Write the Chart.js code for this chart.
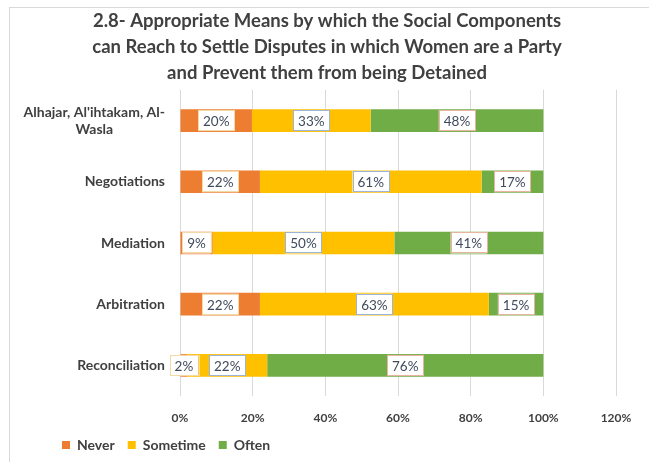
<!DOCTYPE html>
<html>
<head>
<meta charset="utf-8">
<script src="https://cdn.jsdelivr.net/npm/chart.js@4.4.1/dist/chart.umd.min.js"></script>
<style>
	html, body { margin: 0; padding: 0; background: #fff; }
	#wrap { width: 649px; height: 462px; position: relative; }
</style>
</head>
<body>
<div id="wrap"><canvas id="chart" width="649" height="462"></canvas></div>
<script>
const categories = [
	["Alhajar, Al'ihtakam, Al-", "Wasla"],
	["Negotiations"],
	["Mediation"],
	["Arbitration"],
	["Reconciliation"],
];
const never = [20, 22, 9, 22, 2];
const sometime = [33, 61, 50, 63, 22];
const often = [48, 17, 41, 15, 76];
const xTicks = [0, 20, 40, 60, 80, 100, 120];

const FONT = "Lato, 'Open Sans', sans-serif";
const TEXT = "#404040";

// 100% stacked: each bar is scaled to its row total
const totals = never.map((v, i) => v + sometime[i] + often[i]);
const share = (arr) => arr.map((v, i) => (v / totals[i]) * 100);

const frame = {
	id: "frame",
	beforeDraw(chart) {
		const ctx = chart.ctx;
		ctx.save();
		ctx.strokeStyle = "#d9d9d9";
		ctx.lineWidth = 1;
		ctx.strokeRect(9.5, 7.5, 660, 470);
		ctx.restore();
	},
};

// category labels, lines centred on each other, block right aligned
const catLabels = {
	id: "catLabels",
	afterDraw(chart) {
		const ctx = chart.ctx;
		const y = chart.scales.y;
		const right = chart.chartArea.left - 15;
		const lh = 17;
		ctx.save();
		ctx.font = "bold 14px " + FONT;
		ctx.fillStyle = TEXT;
		ctx.textAlign = "center";
		ctx.textBaseline = "middle";
		categories.forEach((lines, i) => {
			const cy = y.getPixelForValue(i);
			const widest = Math.max(...lines.map((l) => ctx.measureText(l).width));
			const cx = right - widest / 2;
			lines.forEach((l, j) => {
				ctx.fillText(l, cx, cy + (j - (lines.length - 1) / 2) * lh);
			});
		});
		ctx.restore();
	},
};

const boxLabels = {
	id: "boxLabels",
	afterDatasetsDraw(chart) {
		const ctx = chart.ctx;
		ctx.save();
		ctx.font = "13.5px " + FONT;
		ctx.textAlign = "center";
		ctx.textBaseline = "middle";
		chart.data.datasets.forEach((ds, di) => {
			const meta = chart.getDatasetMeta(di);
			meta.data.forEach((el, i) => {
				const txt = ds.raw[i] + "%";
				const cx = (el.x + el.base) / 2;
				const cy = el.y;
				const w = ctx.measureText(txt).width + 10;
				const h = 21;
				ctx.fillStyle = "#ffffff";
				ctx.fillRect(cx - w / 2, cy - h / 2, w, h);
				ctx.strokeStyle = ds.labelBorder;
				ctx.lineWidth = 1;
				ctx.strokeRect(Math.round(cx - w / 2) + 0.5, Math.round(cy - h / 2) + 0.5, Math.round(w), h - 1);
				ctx.fillStyle = "#3f4a5c";
				ctx.fillText(txt, cx, cy + 1);
			});
		});
		ctx.restore();
	},
};

// nudge legend and title to where the original has them
const boxShift = {
	id: "boxShift",
	afterLayout(chart) {
		chart.legend.left = 49;
		chart.titleBlock.left = 38;
	},
};

new Chart(document.getElementById("chart"), {
	type: "bar",
	data: {
		labels: categories,
		datasets: [
			{ label: "Never", data: share(never), raw: never, backgroundColor: "#ED7D31", labelBorder: "#f3d9a6" },
			{ label: "Sometime", data: share(sometime), raw: sometime, backgroundColor: "#FFC000", labelBorder: "#9ab5d8" },
			{ label: "Often", data: share(often), raw: often, backgroundColor: "#70AD47", labelBorder: "#e8b4a0" },
		],
	},
	options: {
		indexAxis: "y",
		responsive: false,
		animation: false,
		layout: { padding: { left: 10, right: 33, top: 0, bottom: 0 } },
		datasets: { bar: { categoryPercentage: 1, barPercentage: 0.37 } },
		scales: {
			x: {
				stacked: true,
				min: 0,
				max: 120,
				afterBuildTicks(scale) {
					scale.ticks = xTicks.map((v) => ({ value: v }));
				},
				afterFit(scale) {
					scale.height = 29;
				},
				ticks: {
					callback: (v) => v + "%",
					font: { family: FONT, size: 12, weight: "bold" },
					color: TEXT,
					padding: 15,
				},
				grid: { color: "#d9d9d9", drawTicks: false },
				border: { display: false },
			},
			y: {
				stacked: true,
				afterFit(scale) {
					scale.width = 170;
				},
				ticks: { display: false },
				grid: { display: false },
				border: { display: false },
			},
		},
		plugins: {
			title: {
				display: true,
				text: [
					"2.8- Appropriate Means by which the Social Components",
					"can Reach to Settle Disputes in which Women are a Party",
					"and Prevent them from being Detained",
				],
				font: { family: FONT, size: 18.5, weight: "bold", lineHeight: 1.405 },
				color: TEXT,
				padding: { top: 8, bottom: 4 },
			},
			legend: {
				position: "bottom",
				align: "start",
				labels: {
					boxWidth: 8,
					boxHeight: 8,
					padding: 13,
					font: { family: FONT, size: 14, weight: "bold" },
					color: TEXT,
				},
			},
			tooltip: { enabled: false },
		},
	},
	plugins: [frame, catLabels, boxLabels, boxShift],
});
</script>
</body>
</html>
